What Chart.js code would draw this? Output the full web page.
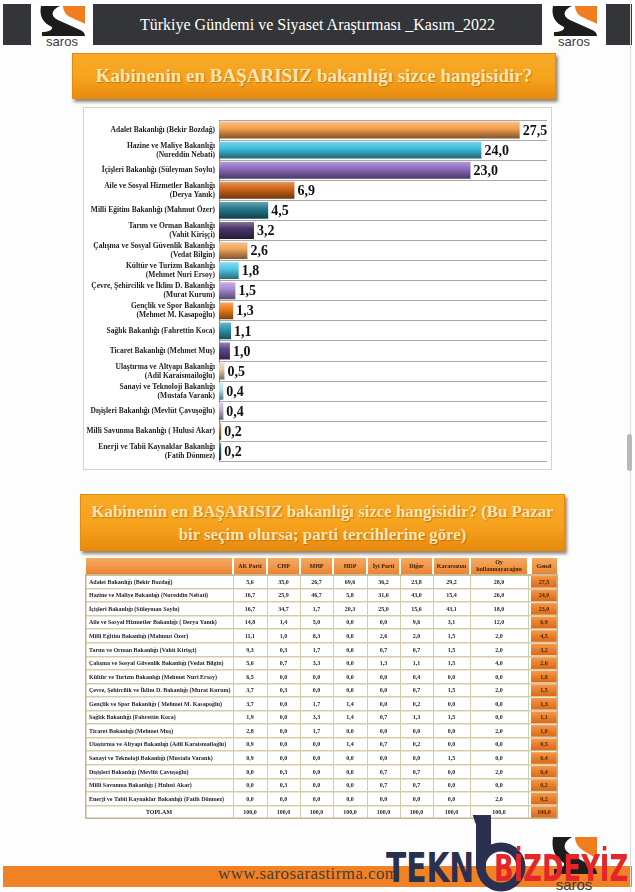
<!DOCTYPE html>
<html lang="tr"><head><meta charset="utf-8">
<script src="https://cdn.jsdelivr.net/npm/chart.js@4.4.1/dist/chart.umd.min.js"></script>
<style>
*{box-sizing:border-box}
html,body{margin:0;padding:0}
body{width:635px;height:892px;position:relative;overflow:hidden;background:#fdfdfd;font-family:"Liberation Serif","Times New Roman",serif}
.a{position:absolute}
.dark{background:#343538}
.hdrtxt{color:#fff;font-size:16px;text-align:center;line-height:41px;white-space:nowrap}
.tbox{background:linear-gradient(180deg,#f8aa25 0%,#f6a21d 55%,#e98a0e 100%);border:1px solid #e38a12;box-shadow:2px 3px 3px rgba(60,40,10,.55);color:#fde6b4;font-weight:bold;text-align:center;text-shadow:1px 1px 1px rgba(130,70,0,.45);white-space:nowrap}
.panel{background:#fff;border:1px solid #d9d2c0}
</style></head><body>

<!-- header -->
<div class="a dark" style="left:3px;top:4px;width:28px;height:41px"></div>
<svg class="a" style="left:33px;top:3px" width="58" height="44" viewBox="0 0 58 44">
  <rect width="58" height="44" fill="#fff"/>
  <path d="M30 3 H52 V21 C45 17 37 15 33 11 C31 8 30 6 30 3 Z" fill="#f07d1e"/>
  <path d="M8 3 H27 C18 7 17 13 25 17 L45 26 C50 28 52 30 52 33 H9 V29 C15 29 20 27 19 24 C10 20 6 13 8 3 Z" fill="#1c1c1c"/>
  <text x="29" y="42.5" font-family="Liberation Sans" font-size="13" fill="#3a3a3a" text-anchor="middle">saros</text>
</svg>
<div class="a dark hdrtxt" style="left:93px;top:4px;width:449px;height:41px">Türkiye Gündemi ve Siyaset Araştırması _Kasım_2022</div>
<svg class="a" style="left:545px;top:3px" width="58" height="44" viewBox="0 0 58 44">
  <rect width="58" height="44" fill="#fff"/>
  <path d="M30 3 H52 V21 C45 17 37 15 33 11 C31 8 30 6 30 3 Z" fill="#f07d1e"/>
  <path d="M8 3 H27 C18 7 17 13 25 17 L45 26 C50 28 52 30 52 33 H9 V29 C15 29 20 27 19 24 C10 20 6 13 8 3 Z" fill="#1c1c1c"/>
  <text x="29" y="42.5" font-family="Liberation Sans" font-size="13" fill="#3a3a3a" text-anchor="middle">saros</text>
</svg>
<div class="a dark" style="left:606px;top:4px;width:26px;height:41px"></div>

<!-- title 1 -->
<div class="a tbox" style="left:72px;top:53px;width:484px;height:46px;font-size:19px;line-height:44px">Kabinenin en BAŞARISIZ bakanlığı sizce hangisidir?</div>

<!-- chart 1 -->
<div class="a panel" style="left:83px;top:107px;width:469px;height:363px"></div>
<canvas id="c1" class="a" style="left:83px;top:107px" width="469" height="363"></canvas>

<!-- title 2 -->
<div class="a tbox" style="left:80px;top:494px;width:485px;height:57px;font-size:16.8px;line-height:23px;padding-top:5px">Kabinenin en BAŞARISIZ bakanlığı sizce hangisidir? (Bu Pazar<br>bir seçim olursa; parti tercihlerine göre)</div>

<!-- table chart -->
<canvas id="c2" class="a" style="left:85px;top:557px;background:#fff" width="473" height="262"></canvas>

<!-- footer -->
<div class="a" style="left:3px;top:866px;width:629px;height:21px;background:#f08124"></div>
<div class="a" style="left:218px;top:864px;font-size:17px;color:#4a3b33;letter-spacing:0.4px;white-space:nowrap">www.sarosarastirma.com</div>
<svg class="a" style="left:545px;top:834px" width="58" height="58" viewBox="0 0 58 58">
  <path d="M30 3 H52 V25 C45 20 37 17 33 12 C31 9 30 6 30 3 Z" fill="#f07d1e"/>
  <path d="M8 3 H27 C18 8 17 15 25 20 L45 31 C50 33 52 36 52 40 H9 V35 C15 35 20 33 19 29 C10 24 6 15 8 3 Z" fill="#1c1c1c"/>
  <text x="29" y="56" font-family="Liberation Sans" font-size="15" fill="#3a3a3a" text-anchor="middle">saros</text>
</svg>
<!-- watermark -->
<div class="a" style="left:386px;top:846px;font-family:'DejaVu Sans';font-weight:bold;font-size:40px;color:#2c3050;transform:scaleX(0.74);transform-origin:left top;white-space:nowrap;line-height:44px">TEKN</div>
<svg class="a" style="left:468px;top:815px" width="62" height="77" viewBox="0 0 62 77">
  <path d="M6 4 L18 0 L18 36" stroke="#2c3050" stroke-width="10" fill="none"/>
  <circle cx="33" cy="52" r="20" stroke="#2c3050" stroke-width="9" fill="none"/>
  <rect x="8" y="6" width="10" height="48" fill="#2c3050"/>
</svg>
<div class="a" style="left:494px;top:848px;font-family:'DejaVu Sans';font-weight:bold;font-size:38px;color:#e4262b;transform:scaleX(0.68);transform-origin:left top;white-space:nowrap;line-height:40px">BİZDEYİZ</div>

<!-- scrollbar -->
<div class="a" style="left:630px;top:0;width:1px;height:892px;background:#dcdcdc"></div>
<div class="a" style="left:627px;top:434px;width:5px;height:37px;background:#b9b9b9;border-radius:3px"></div>

<script>
// ---------------- DATA ----------------
const MINISTRY_LABELS = [
  'Adalet Bakanlığı (Bekir Bozdağ)',
  ['Hazine ve Maliye Bakanlığı', '(Nureddin Nebati)'],
  'İçişleri Bakanlığı (Süleyman Soylu)',
  ['Aile ve Sosyal Hizmetler Bakanlığı', '(Derya Yanık)'],
  'Milli Eğitim Bakanlığı (Mahmut Özer)',
  ['Tarım ve Orman Bakanlığı', '(Vahit Kirişçi)'],
  ['Çalışma ve Sosyal Güvenlik Bakanlığı', '(Vedat Bilgin)'],
  ['Kültür ve Turizm Bakanlığı', '(Mehmet Nuri Ersoy)'],
  ['Çevre, Şehircilik ve İklim D. Bakanlığı', '(Murat Kurum)'],
  ['Gençlik ve Spor Bakanlığı', '(Mehmet M. Kasapoğlu)'],
  'Sağlık Bakanlığı (Fahrettin Koca)',
  'Ticaret Bakanlığı (Mehmet Muş)',
  ['Ulaştırma ve Altyapı Bakanlığı', '(Adil Karaismailoğlu)'],
  ['Sanayi ve Teknoloji Bakanlığı', '(Mustafa Varank)'],
  'Dışişleri Bakanlığı (Mevlüt Çavuşoğlu)',
  'Milli Savunma Bakanlığı ( Hulusi Akar)',
  ['Enerji ve Tabii Kaynaklar Bakanlığı', '(Fatih Dönmez)']
];
const GENEL = [27.5, 24.0, 23.0, 6.9, 4.5, 3.2, 2.6, 1.8, 1.5, 1.3, 1.1, 1.0, 0.5, 0.4, 0.4, 0.2, 0.2];

const TABLE_ROW_LABELS = [
  'Adalet Bakanlığı (Bekir Bozdağ)',
  'Hazine ve Maliye Bakanlığı (Nureddin Nebati)',
  'İçişleri Bakanlığı (Süleyman Soylu)',
  'Aile ve Sosyal Hizmetler Bakanlığı ( Derya Yanık)',
  'Milli Eğitim Bakanlığı (Mahmut Özer)',
  'Tarım ve Orman Bakanlığı (Vahit Kirişçi)',
  'Çalışma ve Sosyal Güvenlik Bakanlığı (Vedat Bilgin)',
  'Kültür ve Turizm Bakanlığı (Mehmet Nuri Ersoy)',
  'Çevre, Şehircilik ve İklim D. Bakanlığı (Murat Kurum)',
  'Gençlik ve Spor Bakanlığı ( Mehmet M. Kasapoğlu)',
  'Sağlık Bakanlığı (Fahrettin Koca)',
  'Ticaret Bakanlığı (Mehmet Muş)',
  'Ulaştırma ve Altyapı Bakanlığı (Adil Karaismailoğlu)',
  'Sanayi ve Teknoloji Bakanlığı (Mustafa Varank)',
  'Dışişleri Bakanlığı (Mevlüt Çavuşoğlu)',
  'Milli Savunma Bakanlığı ( Hulusi Akar)',
  'Enerji ve Tabii Kaynaklar Bakanlığı (Fatih Dönmez)'
];
const TOTAL_LABEL = 'TOPLAM';
const PARTY_COLUMNS = ['AK Parti', 'CHP', 'MHP', 'HDP', 'İyi Parti', 'Diğer', 'Kararsızım', ['Oy', 'kullanmayacağım'], 'Genel'];
const AK_PARTI   = [5.6, 16.7, 16.7, 14.8, 11.1, 9.3, 5.6, 6.5, 3.7, 3.7, 1.9, 2.8, 0.9, 0.9, 0.0, 0.0, 0.0];
const CHP        = [35.0, 25.9, 34.7, 1.4, 1.0, 0.3, 0.7, 0.0, 0.3, 0.0, 0.0, 0.0, 0.0, 0.0, 0.3, 0.3, 0.0];
const MHP        = [26.7, 46.7, 1.7, 5.0, 8.3, 1.7, 3.3, 0.0, 0.0, 1.7, 3.3, 1.7, 0.0, 0.0, 0.0, 0.0, 0.0];
const HDP        = [69.6, 5.8, 20.3, 0.0, 0.0, 0.0, 0.0, 0.0, 0.0, 1.4, 1.4, 0.0, 1.4, 0.0, 0.0, 0.0, 0.0];
const IYI_PARTI  = [36.2, 31.6, 25.0, 0.0, 2.6, 0.7, 1.3, 0.0, 0.0, 0.0, 0.7, 0.0, 0.7, 0.0, 0.7, 0.7, 0.0];
const DIGER      = [23.8, 43.0, 15.6, 9.6, 2.0, 0.7, 1.1, 0.4, 0.7, 0.2, 1.3, 0.0, 0.2, 0.0, 0.7, 0.7, 0.0];
const KARARSIZIM = [29.2, 15.4, 43.1, 3.1, 1.5, 1.5, 1.5, 0.0, 1.5, 0.0, 1.5, 0.0, 0.0, 1.5, 0.0, 0.0, 0.0];
const OY_KULLANMAYACAGIM = [28.0, 26.0, 18.0, 12.0, 2.0, 2.0, 4.0, 0.0, 2.0, 0.0, 0.0, 2.0, 0.0, 0.0, 2.0, 0.0, 2.0];
const TOPLAM = [100.0, 100.0, 100.0, 100.0, 100.0, 100.0, 100.0, 100.0, 100.0];

// ---------------- STYLE / LAYOUT ----------------
const BAR_COLORS = ['#F5A04F','#3DBEDD','#8E6CC0','#D2661A','#24798C','#4A3368','#F3A55C','#4FC9E6','#A98BD3',
                    '#EE7E1E','#2A97B0','#5E4690','#E9CBA5','#B0E2EE','#C2AFD9','#B6742E','#235C6B'];
const TABLE_W = 473;
const COL_EDGES = [0, 148, 182, 215, 248, 282, 315, 348, 385, 443, 473];
const GENEL_CELL = [446, 472];
const SERIF = '"Liberation Serif","Times New Roman",serif';

function shade(hex, amt) {
  const n = parseInt(hex.slice(1), 16);
  let r = n >> 16, g = (n >> 8) & 255, b = n & 255;
  const t = amt < 0 ? 0 : 255, p = Math.abs(amt);
  r = Math.round(r + (t - r) * p); g = Math.round(g + (t - g) * p); b = Math.round(b + (t - b) * p);
  return `rgb(${r},${g},${b})`;
}
const fmt = v => v.toFixed(1).replace('.', ',');

// ---------------- CHART 1 ----------------
const valueLabels = {
  id: 'valueLabels',
  afterDatasetsDraw(chart) {
    const ctx = chart.ctx;
    const meta = chart.getDatasetMeta(0);
    ctx.save();
    ctx.font = 'bold 14px ' + SERIF;
    ctx.fillStyle = '#111';
    ctx.textAlign = 'left';
    ctx.textBaseline = 'middle';
    meta.data.forEach((el, i) => {
      ctx.fillText(fmt(chart.data.datasets[0].data[i]), el.x + 3, el.y + 1);
    });
    ctx.restore();
  }
};

new Chart(document.getElementById('c1'), {
  type: 'bar',
  data: {
    labels: MINISTRY_LABELS,
    datasets: [{
      data: GENEL,
      barPercentage: 0.84,
      categoryPercentage: 1,
      backgroundColor: (c) => {
        const base = BAR_COLORS[c.dataIndex % BAR_COLORS.length];
        const ch = c.chart;
        if (!ch.chartArea || !ch.scales.y) return base;
        const y = ch.scales.y.getPixelForValue(c.dataIndex);
        const h = 9;
        const g = ch.ctx.createLinearGradient(0, y - h, 0, y + h);
        g.addColorStop(0, shade(base, 0.35));
        g.addColorStop(0.4, base);
        g.addColorStop(1, shade(base, -0.5));
        return g;
      }
    }]
  },
  options: {
    indexAxis: 'y',
    responsive: false,
    animation: false,
    layout: { padding: { top: 8, bottom: 4, right: 5, left: 0 } },
    plugins: { legend: { display: false }, tooltip: { enabled: false } },
    scales: {
      x: { display: false, min: 0, max: 30 },
      y: {
        grid: { offset: true, color: '#a9a9a9', drawTicks: false, lineWidth: 1 },
        border: { color: '#8c8c8c' },
        ticks: { autoSkip: false, padding: 4, color: '#1e1e1e', font: { family: SERIF, weight: 'bold', size: 7.5, lineHeight: 1.2 } },
        afterFit: s => { s.width = 136; }
      }
    }
  },
  plugins: [valueLabels]
});

// ---------------- TABLE CHART ----------------
const TABLE_COLUMNS = [AK_PARTI, CHP, MHP, HDP, IYI_PARTI, DIGER, KARARSIZIM, OY_KULLANMAYACAGIM, GENEL];

const tablePlugin = {
  id: 'tableText',
  afterDraw(chart) {
    const { ctx, scales: { x, y }, chartArea } = chart;
    ctx.save();
    // header row
    const hTop = 0, hBot = chartArea.top;
    for (let i = 0; i < COL_EDGES.length - 1; i++) {
      let l = x.getPixelForValue(COL_EDGES[i]), r = x.getPixelForValue(COL_EDGES[i + 1]);
      if (i === COL_EDGES.length - 2) l = x.getPixelForValue(GENEL_CELL[0]);
      const g = ctx.createLinearGradient(0, hTop, 0, hBot);
      g.addColorStop(0, '#f7ac66'); g.addColorStop(1, '#e9832e');
      ctx.fillStyle = g;
      ctx.fillRect(l + 1, hTop + 1, r - l - 2, hBot - hTop - 2);
    }
    ctx.font = 'bold 6px ' + SERIF;
    ctx.fillStyle = '#3a1d05';
    ctx.textAlign = 'center';
    ctx.textBaseline = 'middle';
    PARTY_COLUMNS.forEach((name, c) => {
      const cx = c === 8 ? x.getPixelForValue((GENEL_CELL[0] + GENEL_CELL[1]) / 2)
                         : x.getPixelForValue((COL_EDGES[c + 1] + COL_EDGES[c + 2]) / 2);
      const cy = (hTop + hBot) / 2;
      if (Array.isArray(name)) {
        ctx.fillText(name[0], cx, cy - 3.5);
        ctx.fillText(name[1], cx, cy + 3.5);
      } else ctx.fillText(name, cx, cy);
    });

    // body text
    ctx.font = 'bold 6px ' + SERIF;
    TABLE_ROW_LABELS.forEach((lab, r) => {
      const py = y.getPixelForValue(r) + 0.5;
      ctx.textAlign = 'left';
      ctx.fillStyle = '#262626';
      ctx.fillText(lab, x.getPixelForValue(COL_EDGES[0]) + 4, py);
      ctx.textAlign = 'center';
      TABLE_COLUMNS.forEach((arr, c) => {
        const cx = c === 8 ? x.getPixelForValue((GENEL_CELL[0] + GENEL_CELL[1]) / 2)
                           : x.getPixelForValue((COL_EDGES[c + 1] + COL_EDGES[c + 2]) / 2);
        ctx.fillStyle = c === 8 ? '#4a2508' : '#262626';
        ctx.fillText(fmt(arr[r]), cx, py);
      });
    });
    const ty = y.getPixelForValue(TABLE_ROW_LABELS.length) + 0.5;
    ctx.fillStyle = '#262626';
    ctx.textAlign = 'center';
    ctx.fillText(TOTAL_LABEL, x.getPixelForValue((COL_EDGES[0] + COL_EDGES[1]) / 2), ty);
    TOPLAM.forEach((v, c) => {
      const cx = c === 8 ? x.getPixelForValue((GENEL_CELL[0] + GENEL_CELL[1]) / 2)
                         : x.getPixelForValue((COL_EDGES[c + 1] + COL_EDGES[c + 2]) / 2);
      ctx.fillStyle = c === 8 ? '#4a2508' : '#262626';
      ctx.fillText(fmt(v), cx, ty);
    });
    // outer frame
    ctx.strokeStyle = '#c7b48a';
    ctx.lineWidth = 1.5;
    ctx.strokeRect(0.75, chartArea.top, TABLE_W - 1.5, chartArea.bottom - chartArea.top - 0.75);
    ctx.restore();
  }
};

new Chart(document.getElementById('c2'), {
  type: 'bar',
  data: {
    labels: [...TABLE_ROW_LABELS, TOTAL_LABEL],
    datasets: [{
      data: [...GENEL, TOPLAM[8]].map(() => GENEL_CELL),
      barPercentage: 0.86,
      categoryPercentage: 1,
      backgroundColor: (c) => {
        const ch = c.chart;
        if (!ch.chartArea || !ch.scales.y) return '#ea8330';
        const y = ch.scales.y.getPixelForValue(c.dataIndex);
        const g = ch.ctx.createLinearGradient(0, y - 6, 0, y + 6);
        g.addColorStop(0, '#f49a4c'); g.addColorStop(0.5, '#e97f2c'); g.addColorStop(1, '#d86a18');
        return g;
      }
    }]
  },
  options: {
    indexAxis: 'y',
    responsive: false,
    animation: false,
    layout: { padding: { top: 18, left: 0, right: 0, bottom: 0 } },
    plugins: { legend: { display: false }, tooltip: { enabled: false } },
    scales: {
      x: {
        type: 'linear', min: 0, max: TABLE_W, position: 'top',
        ticks: { display: false },
        grid: { color: '#d9cba6', drawTicks: false, lineWidth: 1 },
        border: { display: false },
        afterBuildTicks: s => { s.ticks = COL_EDGES.map(v => ({ value: v })); },
        afterFit: s => { s.height = 0; }
      },
      y: {
        ticks: { display: false },
        grid: { offset: true, color: '#d9cba6', drawTicks: false, lineWidth: 1.5 },
        border: { display: false },
        afterFit: s => { s.width = 0; }
      }
    }
  },
  plugins: [tablePlugin]
});
</script>
</body></html>
